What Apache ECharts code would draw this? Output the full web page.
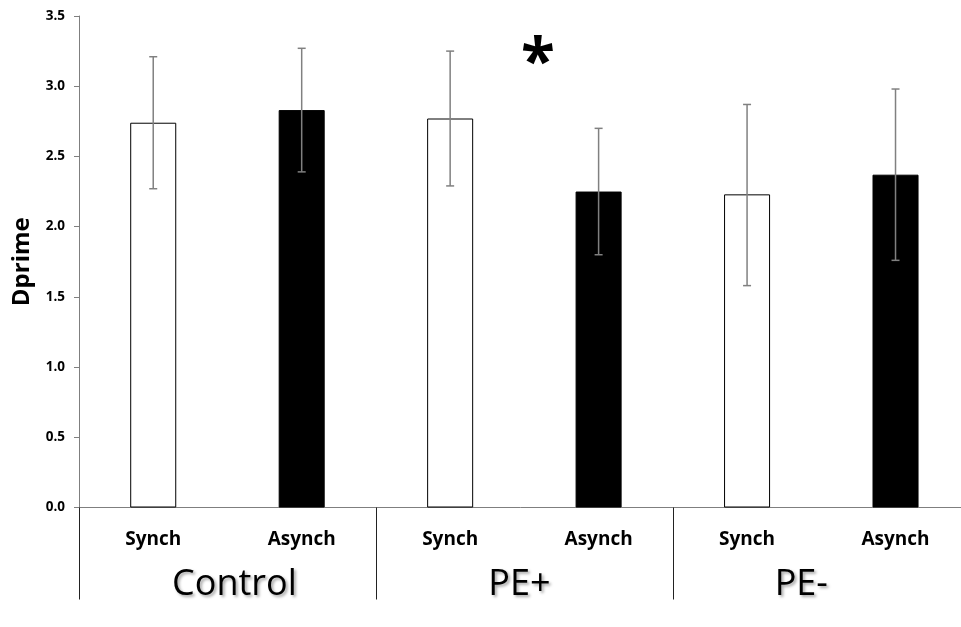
<!DOCTYPE html>
<html>
<head>
<meta charset="utf-8">
<script src="https://cdn.jsdelivr.net/npm/echarts@6/dist/echarts.min.js"></script>
<style>html,body{margin:0;padding:0;background:#fff}#c{width:961px;height:627px}</style>
</head>
<body>
<div id="c"></div>
<script>
var categories = ['Synch', 'Asynch', 'Synch', 'Asynch', 'Synch', 'Asynch'];
var groups = ['Control', 'PE+', 'PE-'];
var values = [2.74, 2.83, 2.77, 2.25, 2.23, 2.37];
var errLow = [2.27, 2.39, 2.29, 1.80, 1.58, 1.76];
var errHigh = [3.21, 3.27, 3.25, 2.70, 2.87, 2.98];
var yTicks = [0, 0.5, 1.0, 1.5, 2.0, 2.5, 3.0, 3.5];
var annotation = '*';

var FONT = "'Open Sans', 'Liberation Sans', sans-serif";
var chart = echarts.init(document.getElementById('c'), null, {renderer: 'canvas'});

var barData = values.map(function (v, i) {
  var filled = (i % 2 === 1);
  return {
    value: v,
    itemStyle: filled ? {color: '#000', borderColor: '#000', borderWidth: 1}
                      : {color: '#fff', borderColor: '#000', borderWidth: 1}
  };
});
var errData = values.map(function (v, i) { return [i, errLow[i], errHigh[i]]; });

var groupStyle = {
  color: '#000', fontFamily: FONT, fontSize: 36,
  textShadowColor: 'rgba(0,0,0,0.35)', textShadowBlur: 3, textShadowOffsetX: 2, textShadowOffsetY: 2
};
function gs(pad) { return Object.assign({padding: pad}, groupStyle); }

chart.setOption({
  backgroundColor: '#fff',
  animation: false,
  grid: {left: 79, width: 890.75, top: 16, height: 491.5, containLabel: false, outerBoundsMode: 'none'},
  xAxis: [{
    type: 'category',
    data: categories,
    position: 'bottom',
    axisLine: {show: true, lineStyle: {color: '#7f7f7f', width: 1}},
    axisTick: {show: false},
    axisLabel: {color: '#000', fontFamily: FONT, fontWeight: 'bold', fontSize: 19, margin: 23}
  }, {
    type: 'category',
    data: groups,
    position: 'bottom',
    axisLine: {show: false},
    axisTick: {show: true, length: 92, lineStyle: {color: '#222', width: 1}},
    axisLabel: {
      margin: 59,
      formatter: function (v, i) { return '{g' + i + '|' + v + '}'; },
      rich: {
        g0: gs([0, 0, 0, 14]),
        g1: gs([0, 10, 0, 0]),
        g2: gs([0, 40, 0, 0])
      }
    }
  }],
  yAxis: {
    type: 'value',
    min: 0, max: 3.5, interval: 0.5,
    name: 'Dprime',
    nameLocation: 'middle',
    nameGap: 45,
    nameRotate: 90,
    nameTextStyle: {color: '#000', fontFamily: FONT, fontWeight: 'bold', fontSize: 24},
    axisLine: {show: true, lineStyle: {color: '#7f7f7f', width: 1}},
    axisTick: {show: true, length: 5, inside: false, lineStyle: {color: '#7f7f7f'}},
    splitLine: {show: false},
    axisLabel: {color: '#000', fontFamily: FONT, fontWeight: 'bold', fontSize: 13.5, margin: 14,
      formatter: function (v) { return yTicks.indexOf(v) >= 0 ? v.toFixed(1) : ''; }}
  },
  series: [{
    type: 'bar',
    xAxisIndex: 0,
    data: barData,
    barWidth: '31%',
    z: 2
  }, {
    type: 'custom',
    xAxisIndex: 0,
    data: errData,
    z: 5,
    renderItem: function (params, api) {
      var x = api.coord([api.value(0), api.value(1)])[0];
      var yl = api.coord([api.value(0), api.value(1)])[1];
      var yh = api.coord([api.value(0), api.value(2)])[1];
      var hw = 4;
      var st = {stroke: '#808080', lineWidth: 1.5};
      return {type: 'group', children: [
        {type: 'line', shape: {x1: x, y1: yl, x2: x, y2: yh}, style: st},
        {type: 'line', shape: {x1: x - hw, y1: yl, x2: x + hw, y2: yl}, style: st},
        {type: 'line', shape: {x1: x - hw, y1: yh, x2: x + hw, y2: yh}, style: st}
      ]};
    }
  }],
  graphic: [{
    type: 'text',
    left: 521, top: 34,
    style: {
      text: annotation, fill: '#000', fontFamily: FONT, fontWeight: 'bold', fontSize: 62,
      shadowColor: 'rgba(0,0,0,0.35)', shadowBlur: 3, shadowOffsetX: 2, shadowOffsetY: 2
    }
  }]
});
</script>
</body>
</html>
